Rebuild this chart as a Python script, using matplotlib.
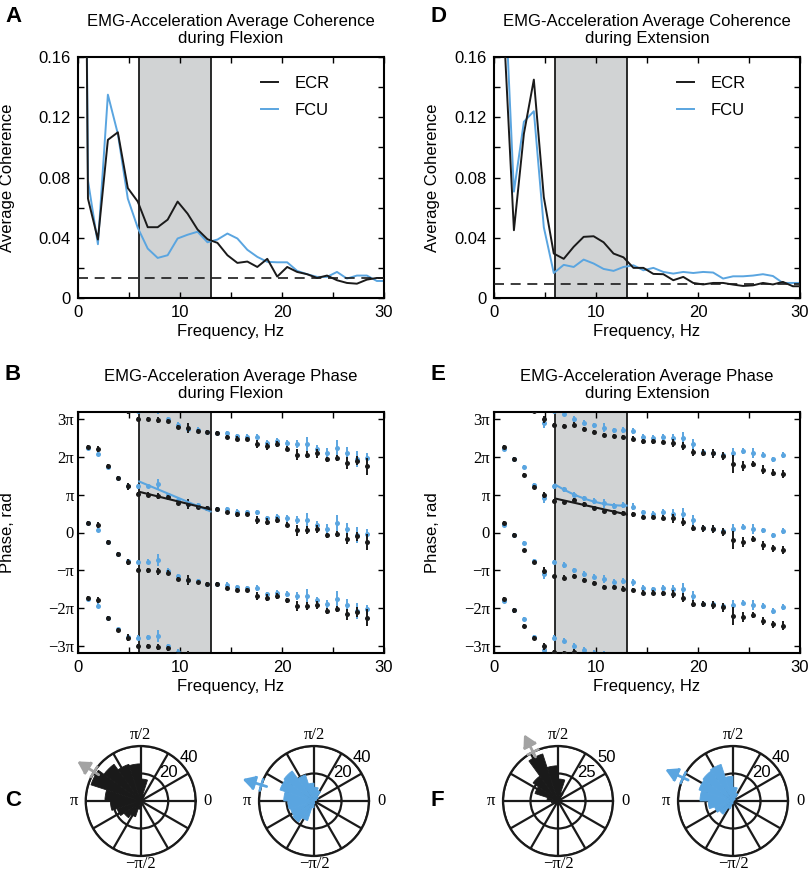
import numpy as np
import matplotlib
matplotlib.use('Agg')
import matplotlib.pyplot as plt
from matplotlib.ticker import FixedLocator, FuncFormatter

# ---------------- data ----------------
df = 0.9766  # frequency resolution, Hz
coh_flex_ecr = [0.90, 0.066, 0.0388, 0.105, 0.110, 0.073, 0.064, 0.047, 0.047, 0.052, 0.064,
                0.056, 0.0455, 0.039, 0.0366, 0.0284, 0.0233, 0.0242, 0.0206, 0.026, 0.0142,
                0.0206, 0.0173, 0.0158, 0.0133, 0.0149, 0.0118, 0.010, 0.0095, 0.0122, 0.0133, 0.0133]
coh_flex_fcu = [0.90, 0.078, 0.0357, 0.135, 0.109, 0.066, 0.0466, 0.0328, 0.0266, 0.0284, 0.0395,
                0.042, 0.044, 0.037, 0.0388, 0.0428, 0.0395, 0.032, 0.0273, 0.024, 0.0237,
                0.0237, 0.018, 0.0158, 0.014, 0.014, 0.0173, 0.0129, 0.0149, 0.0149, 0.0113, 0.0113]
coh_ext_ecr = [0.90, 0.177, 0.045, 0.109, 0.145, 0.067, 0.0295, 0.026, 0.034, 0.0406, 0.041,
               0.037, 0.0295, 0.027, 0.020, 0.020, 0.016, 0.0158, 0.0118, 0.014, 0.010,
               0.009, 0.010, 0.010, 0.0089, 0.008, 0.0084, 0.010, 0.009, 0.0107, 0.0078, 0.0078]
coh_ext_fcu = [0.90, 0.2175, 0.0706, 0.117, 0.124, 0.047, 0.0166, 0.022, 0.0206, 0.0255, 0.0229,
               0.0193, 0.018, 0.0206, 0.0217, 0.0184, 0.020, 0.0173, 0.0162, 0.0173, 0.0166,
               0.0173, 0.0169, 0.0129, 0.0144, 0.0144, 0.0149, 0.0158, 0.0146, 0.010, 0.010, 0.010]
sig_flex = 0.0135
sig_ext = 0.0091

# phase (units of pi), bins k = 1..29
ph_flex_ecr = [2.26, 2.21, 1.75, 1.43, 1.22, 1.01, 1.0, 0.97, 0.94, 0.78, 0.75, 0.68, 0.65, 0.63, 0.53,
               0.48, 0.48, 0.33, 0.28, 0.33, 0.21, 0.06, 0.06, 0.09, -0.07, -0.03, -0.16, -0.10, -0.25]
er_flex_ecr = [0.05, 0.08, 0.05, 0.05, 0.09, 0.05, 0.06, 0.08, 0.06, 0.05, 0.13, 0.05, 0.05, 0.05, 0.05,
               0.06, 0.05, 0.11, 0.09, 0.08, 0.07, 0.14, 0.10, 0.11, 0.07, 0.08, 0.15, 0.12, 0.22]
ph_flex_fcu = [2.24, 2.07, 1.74, 1.44, 1.24, 1.22, 1.23, 1.27, 0.99, 0.85, 0.74, 0.72, 0.65, 0.63, 0.62,
               0.55, 0.53, 0.53, 0.37, 0.41, 0.37, 0.33, 0.33, 0.21, 0.10, 0.24, 0.09, -0.07, -0.03]
er_flex_fcu = [0.05, 0.06, 0.05, 0.05, 0.06, 0.06, 0.06, 0.15, 0.06, 0.06, 0.07, 0.06, 0.05, 0.05, 0.06,
               0.06, 0.06, 0.07, 0.07, 0.08, 0.08, 0.11, 0.19, 0.09, 0.13, 0.21, 0.16, 0.21, 0.12]
ph_ext_ecr = [2.25, 1.94, 1.53, 1.21, 0.99, 0.84, 0.81, 0.85, 0.74, 0.66, 0.57, 0.55, 0.52, 0.48, 0.41,
              0.41, 0.39, 0.37, 0.28, 0.12, 0.11, 0.09, 0.02, -0.20, -0.24, -0.18, -0.34, -0.42, -0.46]
er_ext_ecr = [0.05, 0.06, 0.04, 0.05, 0.09, 0.05, 0.06, 0.06, 0.06, 0.05, 0.05, 0.05, 0.06, 0.06, 0.06,
              0.06, 0.06, 0.11, 0.11, 0.09, 0.09, 0.11, 0.11, 0.24, 0.13, 0.08, 0.11, 0.09, 0.11]
ph_ext_fcu = [2.20, 1.94, 1.72, 1.25, 0.90, 1.22, 1.14, 1.00, 0.90, 0.83, 0.77, 0.70, 0.72, 0.68, 0.53,
              0.50, 0.53, 0.50, 0.50, 0.33, 0.12, 0.10, 0.05, 0.09, 0.15, 0.09, 0.06, -0.07, 0.04]
er_ext_fcu = [0.05, 0.05, 0.05, 0.05, 0.13, 0.06, 0.07, 0.07, 0.07, 0.07, 0.11, 0.07, 0.08, 0.09, 0.07,
              0.07, 0.08, 0.11, 0.16, 0.13, 0.08, 0.08, 0.08, 0.13, 0.07, 0.13, 0.07, 0.07, 0.08]

band = (6, 13)

# rose histograms (20 bins of 18 degrees, counts)
rose_flex_ecr = [0, 0, 2, 5, 16, 27, 28, 33, 38, 26, 22, 18, 15, 12, 6, 3, 1, 0, 0, 0]
rose_flex_fcu = [0, 2, 4, 8, 10, 13, 20, 27, 26, 22, 19, 18, 19, 15, 5, 2, 0, 0, 0, 0]
rose_ext_ecr = [0, 1, 3, 8, 20, 32, 45, 28, 22, 10, 6, 4, 3, 2, 0, 0, 0, 0, 0, 0]
rose_ext_fcu = [0, 0, 2, 6, 10, 18, 28, 27, 26, 24, 18, 14, 12, 6, 2, 0, 0, 0, 0, 0]
mean_dir_flex_ecr = 148
mean_dir_flex_fcu = 163
mean_dir_ext_ecr = 117
mean_dir_ext_fcu = 155

BLUE = '#5AA5E0'
BLACK = '#1a1a1a'
GREY = '#d1d3d4'
ARROW_GREY = '#a3a3a3'
SANS = ['Liberation Sans', 'DejaVu Sans']
SERIF = ['Liberation Serif', 'DejaVu Serif']

plt.rcParams['font.family'] = SANS
plt.rcParams['font.size'] = 12

fig = plt.figure(figsize=(8.10, 8.73), dpi=100)
W, H = 810, 873


def px_axes(l, t, r, b, **kw):
    return fig.add_axes([l / W, 1 - b / H, (r - l) / W, (b - t) / H], **kw)


def style(ax):
    for s in ax.spines.values():
        s.set_linewidth(1.5)
    ax.tick_params(direction='in', top=True, right=True, length=4, width=1, pad=5)
    ax.set_xlim(0, 30)
    ax.xaxis.set_major_locator(FixedLocator([0, 10, 20, 30]))
    ax.xaxis.set_minor_locator(FixedLocator([5, 15, 25]))
    ax.tick_params(which='minor', direction='in', top=True, right=True, length=4, width=1)
    ax.set_xlabel('Frequency, Hz', labelpad=3)


def shade(ax):
    ax.axvspan(band[0], band[1], color=GREY, zorder=0, lw=0)
    ax.axvline(band[0], color=BLACK, lw=1.3, zorder=1)
    ax.axvline(band[1], color=BLACK, lw=1.3, zorder=1)


def coh_panel(ax, ecr, fcu, sig, title):
    shade(ax)
    f = np.arange(len(ecr)) * df
    ax.plot(f, ecr, color=BLACK, lw=1.4, label='ECR', zorder=3)
    ax.plot(f, fcu, color=BLUE, lw=1.4, label='FCU', zorder=2)
    ax.axhline(sig, color=BLACK, lw=1.2, ls=(0, (6, 4)), zorder=4)
    ax.set_ylim(0, 0.16)
    ax.yaxis.set_major_locator(FixedLocator([0, 0.04, 0.08, 0.12, 0.16]))
    ax.yaxis.set_minor_locator(FixedLocator([0.02, 0.06, 0.10, 0.14]))
    ax.yaxis.set_major_formatter(FuncFormatter(lambda v, p: '0' if v == 0 else f'{v:.2f}'))
    style(ax)
    ax.set_ylabel('Average Coherence')
    ax.set_title(title, fontsize=12, pad=10)
    ax.legend(loc='upper left', bbox_to_anchor=(0.55, 0.985), frameon=False, handlelength=1.0,
              handletextpad=1.0, labelspacing=0.75, fontsize=12)


def phase_panel(ax, ph_e, er_e, ph_f, er_f, title, fitdeg_f=1):
    shade(ax)
    k = np.arange(1, len(ph_e) + 1)
    f = k * df
    for ph, er, col, z in ((ph_f, er_f, BLUE, 2), (ph_e, er_e, BLACK, 3)):
        ph = np.array(ph) * np.pi
        er = np.array(er) * np.pi
        for off in (-6, -4, -2, 0, 2):
            ax.errorbar(f, ph + off * np.pi, yerr=er, fmt='o', ms=3.6, color=col, ecolor=col,
                        elinewidth=1.4, capsize=2.8, capthick=1.4, zorder=z, mew=0)
    for ph, col, deg in ((ph_f, BLUE, fitdeg_f), (ph_e, BLACK, 1)):
        ph = np.array(ph) * np.pi
        m = (f >= band[0]) & (f <= band[1])
        c = np.polyfit(f[m], ph[m], deg)
        xx = np.linspace(band[0], band[1], 50)
        ax.plot(xx, np.polyval(c, xx), color=col, lw=1.5, zorder=4)
    ax.set_ylim(-10, 10)
    ax.set_yticks(np.arange(-3, 4) * np.pi)
    ax.set_yticklabels(['\u22123\u03c0', '\u22122\u03c0', '\u2212\u03c0', '0', '\u03c0', '2\u03c0', '3\u03c0'],
                       family=SERIF, fontsize=12)
    style(ax)
    ax.tick_params(axis='y', pad=3)
    ax.set_ylabel('Phase, rad')
    ax.set_title(title, fontsize=12, pad=10)


axA = px_axes(78, 57, 384, 298)
coh_panel(axA, coh_flex_ecr, coh_flex_fcu, sig_flex, 'EMG-Acceleration Average Coherence\nduring Flexion')
axD = px_axes(494, 57, 800, 298)
coh_panel(axD, coh_ext_ecr, coh_ext_fcu, sig_ext, 'EMG-Acceleration Average Coherence\nduring Extension')
axB = px_axes(78, 412, 384, 653)
phase_panel(axB, ph_flex_ecr, er_flex_ecr, ph_flex_fcu, er_flex_fcu, 'EMG-Acceleration Average Phase\nduring Flexion')
axE = px_axes(494, 412, 800, 653)
phase_panel(axE, ph_ext_ecr, er_ext_ecr, ph_ext_fcu, er_ext_fcu,
            'EMG-Acceleration Average Phase\nduring Extension', fitdeg_f=2)

for ax in (axA, axB):
    ax.yaxis.set_label_coords(-0.205, 0.5)
for ax in (axD, axE):
    ax.yaxis.set_label_coords(-0.176, 0.5)

# transparent overlay in pixel units for the mean-direction arrows
ov = fig.add_axes([0, 0, 1, 1], zorder=10)
ov.set_xlim(0, W)
ov.set_ylim(H, 0)
ov.axis('off')
ov.patch.set_alpha(0)


def rose(cx, cy, counts, rmax, rticks, col, ang, acol):
    R = 55
    ax = px_axes(cx - R, cy - R, cx + R, cy + R, projection='polar')
    n = len(counts)
    w = 2 * np.pi / n
    centers = np.arange(n) * w + w / 2
    ax.set_ylim(0, rmax)
    ax.set_yticks(rticks)
    ax.set_yticklabels([])
    ax.set_xticks(np.deg2rad(np.arange(0, 360, 30)))
    ax.set_xticklabels([])
    ax.grid(True, color=BLACK, lw=1.6)
    ax.set_axisbelow(True)
    ax.spines['polar'].set_linewidth(1.6)
    ax.spines['polar'].set_color(BLACK)
    ax.bar(centers, counts, width=w, color=col, edgecolor=col, lw=0.6, zorder=3)
    for t, s, rr in ((0, '0', 1.22), (90, '\u03c0/2', 1.2), (180, '\u03c0', 1.22), (270, '\u2212\u03c0/2', 1.15)):
        ax.text(np.deg2rad(t), rr * rmax, s, ha='center', va='center', family=SERIF, fontsize=12)
    ax.text(np.deg2rad(45), 0.72 * rmax, str(rticks[0]), ha='center', va='center', fontsize=12)
    ax.text(np.deg2rad(42), 1.18 * rmax, str(rticks[1]), ha='center', va='center', fontsize=12)
    # mean-direction arrow (pixel overlay) with two cross ticks
    th = np.deg2rad(ang)
    ux, uy = np.cos(th), -np.sin(th)
    tip = (cx + 1.36 * R * ux, cy + 1.36 * R * uy)
    tail = (cx + 0.9 * R * ux, cy + 0.9 * R * uy)
    ov.annotate('', xy=tip, xytext=tail, xycoords='data',
                arrowprops=dict(arrowstyle='-|>,head_length=0.8,head_width=0.45', color=acol, lw=2.0,
                                mutation_scale=9, shrinkA=0, shrinkB=0))
    h = 7
    for rr in (1.0, 1.13):
        px_, py_ = cx + rr * R * ux, cy + rr * R * uy
        ov.plot([px_ - h * uy, px_ + h * uy], [py_ + h * ux, py_ - h * ux], color=acol, lw=1.8,
                solid_capstyle='butt')
    return ax


rose(140.7, 801, rose_flex_ecr, 40, [20, 40], BLACK, mean_dir_flex_ecr, ARROW_GREY)
rose(314, 801, rose_flex_fcu, 40, [20, 40], BLUE, mean_dir_flex_fcu, BLUE)
rose(558, 801, rose_ext_ecr, 50, [25, 50], BLACK, mean_dir_ext_ecr, ARROW_GREY)
rose(733, 801, rose_ext_fcu, 40, [20, 40], BLUE, mean_dir_ext_fcu, BLUE)

for lab, x, y in (('A', 5, 17), ('B', 5, 375), ('C', 5, 800), ('D', 430, 17), ('E', 430, 375), ('F', 430, 800)):
    fig.text(x / W, 1 - y / H, lab, fontsize=16, fontweight='bold', ha='left', va='center')

fig.savefig('out.png', dpi=100)
